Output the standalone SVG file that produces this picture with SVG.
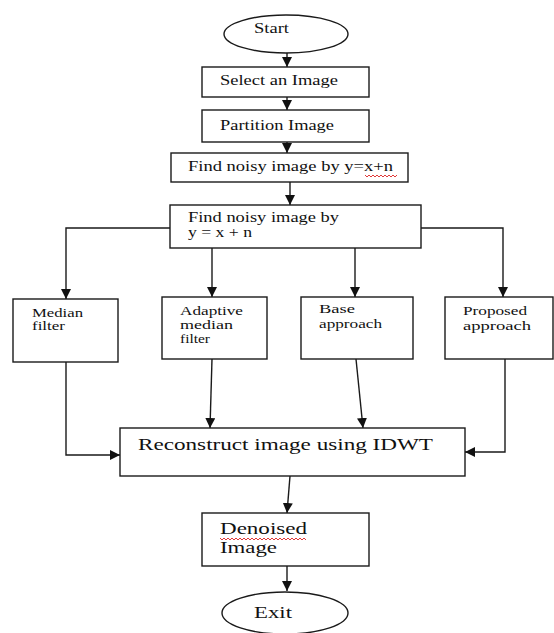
<svg xmlns="http://www.w3.org/2000/svg" width="554" height="633" viewBox="0 0 554 633" font-family="'Liberation Serif', 'DejaVu Serif', serif">
<style>
.b{fill:#fff;stroke:#1a1a1a;stroke-width:1.4}
text{font-family:'Liberation Serif','DejaVu Serif',serif;fill:#111}
.c{fill:none;stroke:#1a1a1a;stroke-width:1.4}
.sq{fill:none;stroke:#d22;stroke-width:0.9}
</style>
<defs>
<marker id="ah" markerUnits="userSpaceOnUse" markerWidth="10" markerHeight="10" refX="10" refY="5" orient="auto" viewBox="0 0 10 10">
<path d="M0,0 L10,5 L0,10 z" fill="#111"/>
</marker>
</defs>
<rect width="554" height="633" fill="#fff"/>
<g id="connectors">
<line class="c" x1="287" y1="53" x2="287" y2="67" marker-end="url(#ah)"/>
<line class="c" x1="287" y1="97" x2="287" y2="110" marker-end="url(#ah)"/>
<line class="c" x1="287" y1="142" x2="287" y2="153" marker-end="url(#ah)"/>
<line class="c" x1="290" y1="182" x2="290" y2="205" marker-end="url(#ah)"/>
<polyline class="c" points="170,228 66,228 66,299" marker-end="url(#ah)"/>
<polyline class="c" points="421,228 503,228 503,297" marker-end="url(#ah)"/>
<line class="c" x1="212" y1="248" x2="212" y2="297" marker-end="url(#ah)"/>
<line class="c" x1="355" y1="248" x2="355" y2="297" marker-end="url(#ah)"/>
<polyline class="c" points="66,362 66,455 120,455" marker-end="url(#ah)"/>
<line class="c" x1="212" y1="359" x2="210" y2="428" marker-end="url(#ah)"/>
<line class="c" x1="356" y1="359" x2="363" y2="428" marker-end="url(#ah)"/>
<polyline class="c" points="505,359 505,452 465,452" marker-end="url(#ah)"/>
<line class="c" x1="290" y1="476" x2="287" y2="513" marker-end="url(#ah)"/>
<line class="c" x1="287" y1="566" x2="287" y2="591" marker-end="url(#ah)"/>
</g>
<g id="start">
<ellipse class="b" cx="286" cy="34" rx="62" ry="19"/>
<text x="254" y="33" font-size="14" textLength="35" lengthAdjust="spacingAndGlyphs">Start</text>
</g>
<g id="select">
<rect class="b" x="202" y="67" width="167" height="30"/>
<text x="220" y="85" font-size="15" textLength="118" lengthAdjust="spacingAndGlyphs">Select an Image</text>
</g>
<g id="partition">
<rect class="b" x="202" y="110" width="167" height="32"/>
<text x="220" y="130" font-size="15" textLength="114" lengthAdjust="spacingAndGlyphs">Partition Image</text>
</g>
<g id="find1">
<rect class="b" x="171" y="153" width="237" height="29"/>
<text x="188" y="171" font-size="15" textLength="205" lengthAdjust="spacingAndGlyphs">Find noisy image by y=x+n</text>
<path class="sq" d="M365,175 l2,2 l2,-2 l2,2 l2,-2 l2,2 l2,-2 l2,2 l2,-2 l2,2 l2,-2 l2,2 l2,-2 l2,2 l2,-2 l2,2 l2,-2"/>
</g>
<g id="find2">
<rect class="b" x="170" y="205" width="251" height="43"/>
<text x="188" y="222" font-size="14" textLength="151" lengthAdjust="spacingAndGlyphs">Find noisy image by</text>
<text x="188" y="237" font-size="14" textLength="64" lengthAdjust="spacingAndGlyphs">y = x + n</text>
</g>
<g id="median">
<rect class="b" x="13" y="299" width="105" height="63"/>
<text x="32" y="317" font-size="12" textLength="51" lengthAdjust="spacingAndGlyphs">Median</text>
<text x="32" y="330" font-size="12" textLength="33" lengthAdjust="spacingAndGlyphs">filter</text>
</g>
<g id="adaptive">
<rect class="b" x="162" y="297" width="105" height="62"/>
<text x="180" y="315" font-size="12" textLength="63" lengthAdjust="spacingAndGlyphs">Adaptive</text>
<text x="180" y="329" font-size="12" textLength="53" lengthAdjust="spacingAndGlyphs">median</text>
<text x="180" y="343" font-size="12" textLength="30" lengthAdjust="spacingAndGlyphs">filter</text>
</g>
<g id="base">
<rect class="b" x="301" y="297" width="112" height="62"/>
<text x="319" y="313" font-size="12" textLength="36" lengthAdjust="spacingAndGlyphs">Base</text>
<text x="319" y="328" font-size="12" textLength="63" lengthAdjust="spacingAndGlyphs">approach</text>
</g>
<g id="proposed">
<rect class="b" x="445" y="297" width="108" height="62"/>
<text x="463" y="315" font-size="12" textLength="64" lengthAdjust="spacingAndGlyphs">Proposed</text>
<text x="463" y="330" font-size="12" textLength="68" lengthAdjust="spacingAndGlyphs">approach</text>
</g>
<g id="reconstruct">
<rect class="b" x="120" y="428" width="345" height="48"/>
<text x="138" y="450" font-size="17" textLength="295" lengthAdjust="spacingAndGlyphs">Reconstruct image using IDWT</text>
</g>
<g id="denoised">
<rect class="b" x="202" y="513" width="167" height="53"/>
<text x="220" y="534" font-size="16" textLength="87" lengthAdjust="spacingAndGlyphs">Denoised</text>
<text x="220" y="553" font-size="16" textLength="57" lengthAdjust="spacingAndGlyphs">Image</text>
<path class="sq" d="M220,538 l2,2 l2,-2 l2,2 l2,-2 l2,2 l2,-2 l2,2 l2,-2 l2,2 l2,-2 l2,2 l2,-2 l2,2 l2,-2 l2,2 l2,-2 l2,2 l2,-2 l2,2 l2,-2 l2,2 l2,-2 l2,2 l2,-2 l2,2 l2,-2 l2,2 l2,-2 l2,2 l2,-2 l2,2 l2,-2 l2,2 l2,-2 l2,2 l2,-2 l2,2 l2,-2 l2,2 l2,-2 l2,2 l2,-2 l2,2"/>
</g>
<g id="exit">
<ellipse class="b" cx="285" cy="613" rx="63" ry="21"/>
<text x="254" y="618" font-size="17" textLength="38" lengthAdjust="spacingAndGlyphs">Exit</text>
</g>
</svg>
